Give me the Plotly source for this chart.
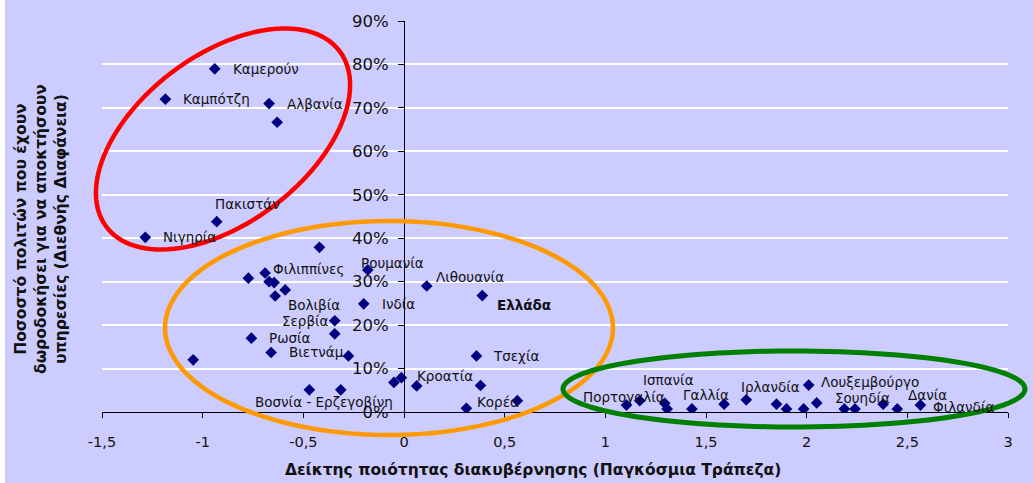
import numpy as np
import plotly.graph_objects as go

# ---------------- data ----------------
countries = ["Καμερούν", "Καμπότζη", "Αλβανία", "", "Πακιστάν", "Νιγηρία", "", "",
             "Φιλιππίνες", "", "", "", "Βολιβία", "Ρουμανία", "Ινδία", "Σερβία", "",
             "Ρωσία", "Βιετνάμ", "", "", "Βοσνία - Ερζεγοβίνη", "", "", "", "Κροατία",
             "Λιθουανία", "Ελλάδα", "Τσεχία", "", "Κορέα", "", "Πορτογαλία", "",
             "Ισπανία", "", "Γαλλία", "", "Ιρλανδία", "", "", "", "Λουξεμβούργο", "",
             "", "Σουηδία", "Δανία", "", "Φιλανδία"]
governance = [-0.94, -1.185, -0.67, -0.63, -0.93, -1.285, -0.42, -0.773,
              -0.69, -0.67, -0.645, -0.59, -0.64, -0.18, -0.20, -0.344, -0.344,
              -0.758, -0.66, -0.276, -1.047, -0.47, -0.314, -0.05, -0.013, 0.063,
              0.113, 0.389, 0.36, 0.38, 0.31, 0.563, 1.105, 1.171,
              1.295, 1.307, 1.43, 1.59, 1.70, 1.85, 1.90, 1.985, 2.01, 2.05,
              2.187, 2.24, 2.38, 2.45, 2.565]
bribery = [0.79, 0.72, 0.71, 0.667, 0.438, 0.402, 0.379, 0.308,
           0.32, 0.30, 0.298, 0.281, 0.267, 0.327, 0.249, 0.21, 0.18,
           0.17, 0.137, 0.129, 0.12, 0.051, 0.051, 0.068, 0.079, 0.06,
           0.29, 0.268, 0.129, 0.061, 0.0085, 0.026, 0.016, 0.026,
           0.02, 0.007, 0.007, 0.018, 0.028, 0.018, 0.007, 0.007, 0.062, 0.021,
           0.007, 0.007, 0.018, 0.007, 0.016]

x_tick_vals = [-1.5, -1, -0.5, 0, 0.5, 1, 1.5, 2, 2.5, 3]
x_tick_text = ["-1,5", "-1", "-0,5", "0", "0,5", "1", "1,5", "2", "2,5", "3"]
y_tick_vals = [0, 0.1, 0.2, 0.3, 0.4, 0.5, 0.6, 0.7, 0.8, 0.9]
y_tick_text = ["0%", "10%", "20%", "30%", "40%", "50%", "60%", "70%", "80%", "90%"]

x_title = "Δείκτης ποιότητας διακυβέρνησης (Παγκόσμια Τράπεζα)"
y_title = "Ποσοστό πολιτών που έχουν<br>δωροδοκήσει για να αποκτήσουν<br>υπηρεσίες (Διεθνής Διαφάνεια)"

# label pixel offsets (style only): name -> (dx, dy)
label_offsets = {
    "Καμερούν": (16, 0), "Καμπότζη": (16, 0), "Αλβανία": (16, 0),
    "Πακιστάν": (-4, 18), "Νιγηρία": (16, 0), "Φιλιππίνες": (6, 4),
    "Βολιβία": (11, -9), "Ρουμανία": (-9, 7), "Ινδία": (16, 0),
    "Σερβία": (-55, 0), "Ρωσία": (16, 0), "Βιετνάμ": (16, 0),
    "Βοσνία - Ερζεγοβίνη": (-56, -12), "Κροατία": (-2, 10),
    "Λιθουανία": (7, 9), "Ελλάδα": (13, -9), "Τσεχία": (15, 0),
    "Κορέα": (9, 6), "Πορτογαλία": (-45, 8), "Ισπανία": (-24, 23),
    "Γαλλία": (-11, 14), "Ιρλανδία": (-7, 13), "Λουξεμβούργο": (10, 3),
    "Σουηδία": (-22, 11), "Δανία": (23, 9), "Φιλανδία": (11, -2),
}

# ---------------- geometry ----------------
W, H = 1033, 483
L, R, T, B = 102, 25, 21, 71
PW, PH = W - L - R, H - T - B
BG = "#CCCCFF"


def to_paper(px, py):
    return (px - L) / PW, (H - B - py) / PH


def ellipse_path(cx, cy, a, b, ang_deg, n=120):
    t = np.linspace(0, 2 * np.pi, n)
    th = np.deg2rad(ang_deg)
    xs = cx + a * np.cos(t) * np.cos(th) + b * np.sin(t) * np.sin(th)
    ys = cy - a * np.cos(t) * np.sin(th) + b * np.sin(t) * np.cos(th)
    pts = [to_paper(x, y) for x, y in zip(xs, ys)]
    return "M " + " L ".join(f"{x:.5f},{y:.5f}" for x, y in pts) + " Z"


fig = go.Figure()
fig.add_trace(go.Scatter(
    x=governance, y=bribery, mode="markers",
    marker=dict(symbol="diamond", size=9, color="#000080"),
    hoverinfo="skip", showlegend=False))

annotations = []
for name, gx, by in zip(countries, governance, bribery):
    if not name:
        continue
    dx, dy = label_offsets[name]
    txt = f"<b>{name}</b>" if name == "Ελλάδα" else name
    annotations.append(dict(
        x=gx, y=by, xref="x", yref="y", text=txt, showarrow=False,
        xanchor="left", yanchor="middle", xshift=dx, yshift=dy,
        font=dict(family="DejaVu Sans", size=13.5, color="#111111")))

xt_x, xt_y = to_paper(533, 470)
annotations.append(dict(x=xt_x, y=xt_y, xref="paper", yref="paper", text=f"<b>{x_title}</b>",
                        showarrow=False, xanchor="center", yanchor="middle",
                        font=dict(family="DejaVu Sans", size=15.5, color="#111111")))
yt_x, yt_y = to_paper(41, 229)
annotations.append(dict(x=yt_x, y=yt_y, xref="paper", yref="paper", text=f"<b>{y_title}</b>",
                        showarrow=False, xanchor="center", yanchor="middle", textangle=-90,
                        font=dict(family="DejaVu Sans", size=15.5, color="#111111")))

shapes = []
# white strip at left edge
sx0, _ = to_paper(-10, 0)
sx1, _ = to_paper(5, 0)
shapes.append(dict(type="rect", xref="paper", yref="paper", x0=sx0, x1=sx1, y0=-1, y1=2,
                   fillcolor="white", line=dict(width=0), layer="below"))
shapes.append(dict(type="path", xref="paper", yref="paper",
                   path=ellipse_path(223, 139, 146, 84, 37), line=dict(color="#FF0000", width=4.5)))
shapes.append(dict(type="path", xref="paper", yref="paper",
                   path=ellipse_path(389, 328, 224, 107, 0), line=dict(color="#FF9900", width=4.5)))
shapes.append(dict(type="path", xref="paper", yref="paper",
                   path=ellipse_path(794, 389, 231, 38, 0), line=dict(color="#008000", width=5)))

fig.update_layout(
    width=W, height=H,
    margin=dict(l=L, r=R, t=T, b=B, pad=0),
    paper_bgcolor=BG, plot_bgcolor=BG,
    annotations=annotations, shapes=shapes,
    xaxis=dict(range=[-1.5, 3], tickvals=x_tick_vals, ticktext=x_tick_text,
               showgrid=False, zeroline=False, showline=True, linecolor="black", linewidth=1,
               ticks="outside", ticklen=5, tickcolor="black", ticklabelstandoff=12,
               tickfont=dict(family="DejaVu Sans", size=14.5, color="#111111")),
    yaxis=dict(range=[0, 0.9], tickvals=y_tick_vals, ticktext=y_tick_text,
               anchor="free", position=1.5 / 4.5,
               showgrid=True, gridcolor="white", gridwidth=1.5, zeroline=False,
               showline=True, linecolor="black", linewidth=1,
               ticks="outside", ticklen=6, tickcolor="black", ticklabelstandoff=6,
               tickfont=dict(family="DejaVu Sans", size=16.5, color="#111111")),
)

fig.write_html("out.html", config={"displayModeBar": False},
               post_script="document.body.style.margin='0px';document.body.style.background='%s';" % BG)
